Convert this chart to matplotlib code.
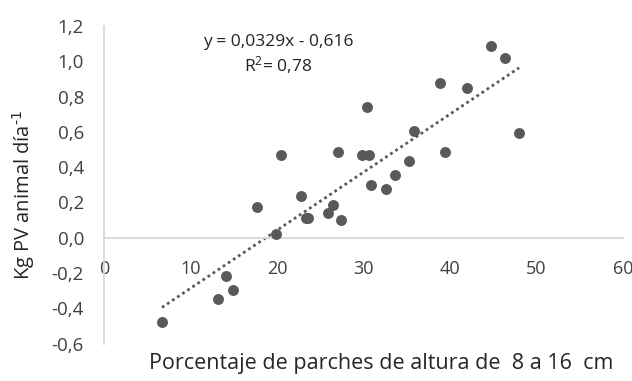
import matplotlib
matplotlib.use('Agg')
import matplotlib.pyplot as plt
import numpy as np

plt.rcParams['font.family'] = ['Open Sans', 'DejaVu Sans']
plt.rcParams['mathtext.default'] = 'regular'

# porcentaje de parches 8-16 cm vs ganancia (kg PV/animal/dia)
pct = [6.7, 13.2, 14.1, 14.9, 17.7, 19.9, 20.5, 22.8, 23.3, 23.6,
       25.9, 26.5, 27.1, 27.4, 29.8, 30.4, 30.6, 30.9, 32.6, 33.6,
       35.3, 35.9, 38.8, 39.4, 42.0, 44.7, 46.4, 48.0]
gan = [-0.479, -0.349, -0.219, -0.296, 0.176, 0.021, 0.467, 0.238, 0.113, 0.113,
       0.142, 0.185, 0.484, 0.100, 0.470, 0.742, 0.468, 0.297, 0.274, 0.355,
       0.433, 0.606, 0.878, 0.484, 0.850, 1.086, 1.020, 0.595]
pend, inter = 0.0329, -0.616
xticks = [0, 10, 20, 30, 40, 50, 60]
yticks = [-0.6, -0.4, -0.2, 0.0, 0.2, 0.4, 0.6, 0.8, 1.0, 1.2]

gris = '#595959'
texto = '#404040'

fig = plt.figure(figsize=(6.32, 3.81), dpi=100)
ax = fig.add_axes([0.1646, 0.0984, 0.821, 0.8334])

ax.scatter(pct, gan, s=62, color=gris, zorder=3, linewidths=0)
xl = np.array([min(pct), max(pct)])
ax.plot(xl, pend * xl + inter, linestyle=(0, (1, 1.2)), color=gris, lw=2, zorder=2)

ax.set_xlim(0, 60)
ax.set_ylim(-0.6, 1.2)
ax.set_xticks(xticks)
ax.set_yticks(yticks)
ax.set_xticklabels([str(v) for v in xticks])
ax.set_yticklabels([f'{v:.1f}'.replace('.', ',') for v in yticks])

for s in ['top', 'right']:
    ax.spines[s].set_visible(False)
ax.spines['bottom'].set_position(('data', 0))
ax.spines['left'].set_position(('data', 0))
for s in ['bottom', 'left']:
    ax.spines[s].set_color('#d9d9d9')
    ax.spines[s].set_linewidth(1.3)
ax.tick_params(axis='x', length=0, pad=16, labelsize=13, labelcolor=texto)
ax.tick_params(axis='y', length=0, pad=14.5, labelsize=13.5, labelcolor=texto)

ax.text(0.335, 0.95, 'y = 0,0329x - 0,616', transform=ax.transAxes,
        ha='center', va='center', fontsize=12.5, color='#222222')
ax.text(0.335, 0.877, r'R$^{2}$= 0,78', transform=ax.transAxes,
        ha='center', va='center', fontsize=12.5, color='#222222')

fig.text(381 / 632, 1 - 363 / 381, 'Porcentaje de parches de altura de  8 a 16  cm',
         ha='center', va='center', fontsize=15.5, color='#262626')
fig.text(24 / 632, 1 - 195 / 381, r'Kg PV animal día$^{\text{-1}}$', rotation=90,
         ha='center', va='center', fontsize=14.5, color='#262626')

fig.savefig('out.png', dpi=100)
